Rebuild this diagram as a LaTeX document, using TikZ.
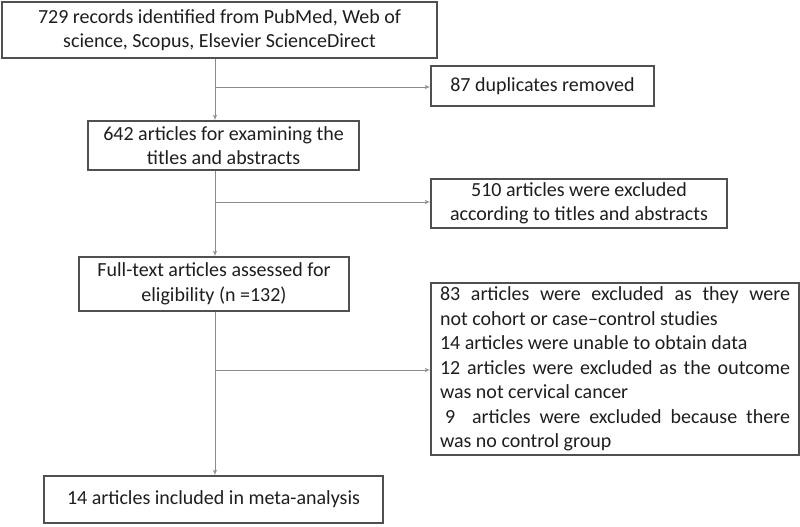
\documentclass[tikz,border=0pt]{standalone}
\usepackage{fontspec}
\setmainfont{Carlito}
\usepackage{tikz}
\usetikzlibrary{arrows}
\usetikzlibrary{positioning}
\definecolor{boxline}{HTML}{505050}
\definecolor{linkline}{HTML}{8C8C8C}
\definecolor{ink}{HTML}{1E1E1E}
\tikzstyle{every node}+=[inner sep=0pt]
\tikzstyle{block} = [rectangle, draw=boxline, line width=1.2pt, text=ink, font=\fontsize{20}{24.5}\selectfont, align=center]
\tikzstyle{note} = [block, align=justify]
\tikzstyle{line} = [draw=linkline, line width=0.9pt, -latex']

\begin{document}
\begin{tikzpicture}[x=1pt, y=-1pt]
          \useasboundingbox (0,0) rectangle (800,527);
          % Place nodes
          \node [block, minimum width=435pt, minimum height=56pt] (n1) at (219.5,30) {729 records identified from PubMed, Web of\\science, Scopus, Elsevier ScienceDirect};
          \node [block, minimum width=271pt, minimum height=49pt] (n2) at (223.5,145.5) {642 articles for examining the\\titles and abstracts};
          \node [block, minimum width=270pt, minimum height=54pt] (n3) at (214,284) {Full-text articles assessed for\\eligibility (n =132)};
          \node [block, minimum width=339pt, minimum height=47pt] (n4) at (213.5,499.5) {14 articles included in meta-analysis};
          \node [block, minimum width=223pt, minimum height=40pt] (x1) at (542.5,86) {87 duplicates removed};
          \node [block, minimum width=296pt, minimum height=49pt] (x2) at (579,203.5) {510 articles were excluded\\according to titles and abstracts};
          \node [note, text width=350pt, minimum height=172pt, inner xsep=9pt] (x3) at (615,369) {\hyphenpenalty=10000
          83 articles were excluded as they were\linebreak not cohort or case--control studies\par
          14 articles were unable to obtain data\par
          12 articles were excluded as the outcome\linebreak was not cervical cancer\par
          \hspace*{0.25em}9\hspace{0.4em} articles were excluded because there\linebreak was no control group};
          % Branch points
          \coordinate (j1) at (215,87);
          \coordinate (j2) at (215,202);
          \coordinate (j3) at (215,370);
          % Draw edges
          \path [line] (n1.south -| j1) -- (n2.north -| j1);
          \path [line] (n2.south -| j2) -- (n3.north -| j2);
          \path [line] (n3.south -| j3) -- (n4.north -| j3);
          \path [line] (j1) -- (x1.west |- j1);
          \path [line] (j2) -- (x2.west |- j2);
          \path [line] (j3) -- (x3.west |- j3);
        \end{tikzpicture}
\end{document}
